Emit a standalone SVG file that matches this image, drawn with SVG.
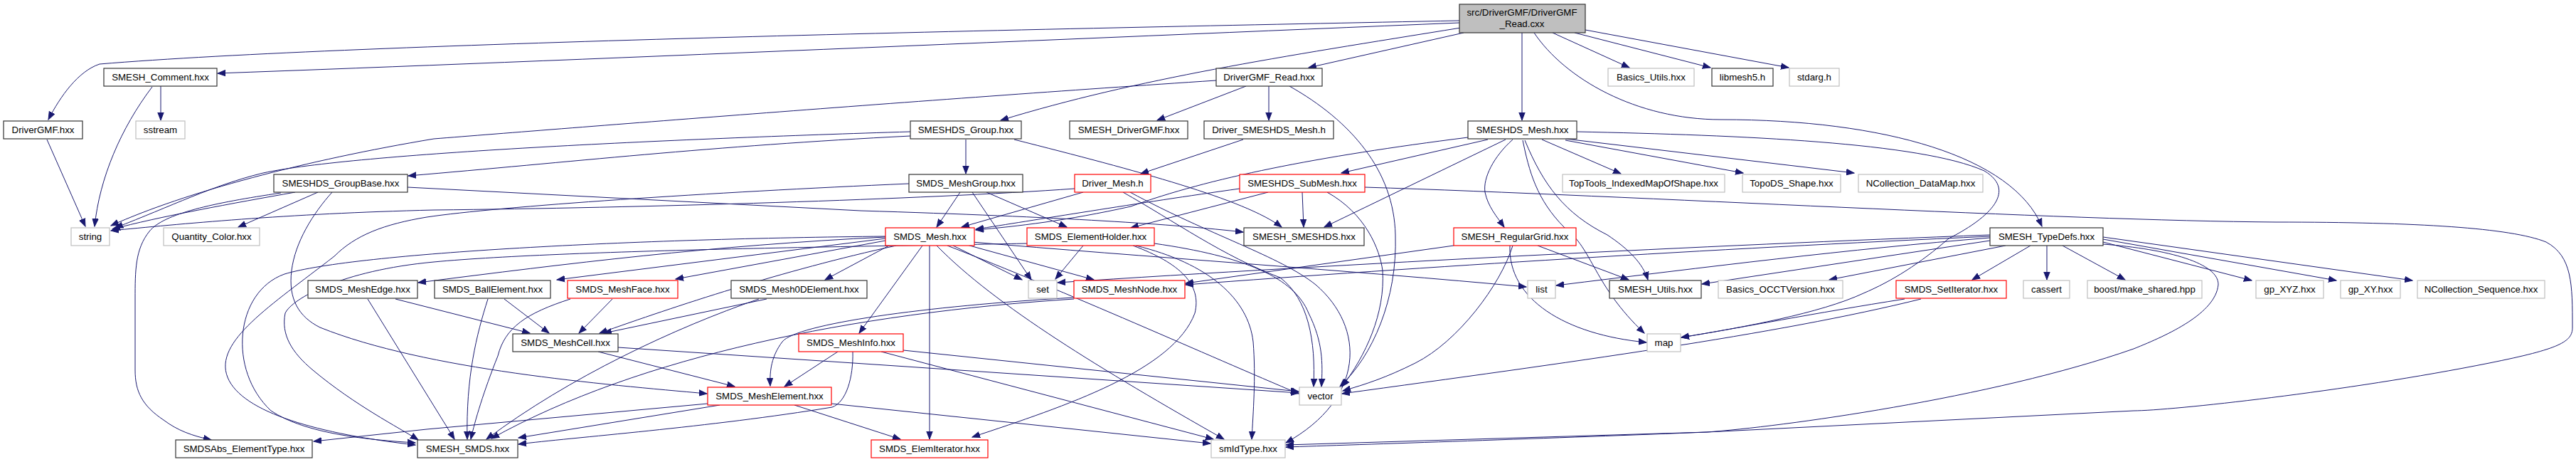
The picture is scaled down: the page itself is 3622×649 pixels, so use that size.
<svg xmlns="http://www.w3.org/2000/svg" width="3622" height="649" viewBox="0 0 3622 649">
<defs>
<style>
.b{fill:#fff;stroke-width:1.2}
.k{stroke:#333333}
.g{stroke:#bfbfbf}
.r{stroke:#ff0000}
text{font-family:"Liberation Sans",Arial,sans-serif;font-size:13.3px;fill:#000;text-anchor:middle}
.e path{fill:none;stroke:#191970;stroke-width:1;marker-end:url(#a)}
</style>
<marker id="a" markerWidth="12" markerHeight="10" refX="11" refY="5" orient="auto" markerUnits="userSpaceOnUse"><path d="M0,0.8 L11,5 L0,9.2 z" fill="#191970" stroke="#191970"/></marker>
</defs>
<rect width="3622" height="649" fill="#fff"/>
<g class="e" id="edges">
<path d="M2052,29 C1500,40 500,60 140,90 C110,100 85,135 68,168"/>
<path d="M2052,32 C1500,55 800,85 306,103"/>
<path d="M2054,39 C1800,80 1600,110 1407,169"/>
<path d="M2058,46 L1840,95"/>
<path d="M2140,46 L2140,169"/>
<path d="M2183,46 L2291,95"/>
<path d="M2214,46 L2405,95"/>
<path d="M2229,42 L2515,95"/>
<path d="M2157,46 C2200,110 2300,168 2420,168 C2650,168 2830,220 2871,318"/>
<path d="M1710,113 C1300,140 800,180 610,195 C430,225 260,270 156,317"/>
<path d="M1752,121 L1627,169"/>
<path d="M1784,121 L1784,169"/>
<path d="M1813,121 C1900,170 1960,240 1962,330 C1965,420 1930,500 1884,543"/>
<path d="M226,121 L226,169"/>
<path d="M214,122 C170,180 140,250 133,318"/>
<path d="M66,196 L120,318"/>
<path d="M1280,185 C950,195 500,215 370,243 C300,260 240,290 162,320"/>
<path d="M1280,191 C1000,205 800,228 574,247"/>
<path d="M1358,196 L1358,244"/>
<path d="M1426,196 C1600,240 1750,280 1802,319"/>
<path d="M1748,196 L1604,244"/>
<path d="M2064,193 C1850,220 1700,250 1590,290 C1500,310 1430,318 1372,323"/>
<path d="M2092,196 L1886,243"/>
<path d="M2117,196 L1862,319"/>
<path d="M2127,196 C2100,220 2085,250 2088,270 C2092,290 2105,305 2115,319"/>
<path d="M2141,197 C2150,240 2160,280 2200,320 C2240,350 2240,400 2312,468"/>
<path d="M2144,197 C2170,260 2200,300 2260,330 C2290,350 2310,370 2317,393"/>
<path d="M2168,196 L2279,244"/>
<path d="M2201,197 L2451,243"/>
<path d="M2201,195 L2607,243"/>
<path d="M2217,185 C2450,190 2700,200 2790,240 C2840,270 2790,310 2740,335 C2700,370 2660,395 2620,412 C2560,440 2450,460 2364,474"/>
<path d="M415,270 C330,285 220,305 158,322"/>
<path d="M395,271 C300,285 230,300 210,325 C190,350 190,380 190,420 L190,520 C190,550 200,570 230,590 C250,605 270,612 297,618"/>
<path d="M447,270 L335,319"/>
<path d="M467,270 C440,300 415,340 410,380 C405,420 420,445 450,460 C600,520 850,540 994,553"/>
<path d="M573,263 L1210,296 C1500,305 1650,315 1748,326"/>
<path d="M1511,265 C1300,280 900,292 610,295 C400,300 250,315 156,324"/>
<path d="M1523,270 L1352,319"/>
<path d="M1579,270 C1650,310 1720,360 1800,390 C1840,420 1850,480 1847,543"/>
<path d="M1589,270 C1700,330 1800,360 1850,400 C1920,460 1920,560 1808,622"/>
<path d="M1350,270 L1317,319"/>
<path d="M1367,270 L1450,393"/>
<path d="M1387,270 L1500,319"/>
<path d="M1278,258 C1000,270 700,290 600,305 C540,315 500,330 470,360 C380,430 300,480 320,530 C340,580 450,610 584,625"/>
<path d="M1831,270 L1833,319"/>
<path d="M1866,270 C1920,300 1940,350 1944,380 C1948,440 1920,500 1887,543"/>
<path d="M1743,265 C1600,285 1450,310 1372,322"/>
<path d="M1783,270 L1590,320"/>
<path d="M1919,263 C2300,275 2900,310 3200,312 C3400,312 3530,320 3580,340 C3617,360 3617,400 3617,460 C3617,480 3600,490 3500,510 C3300,550 3050,577 3000,577 L2400,607 C2200,615 1900,625 1808,628"/>
<path d="M1297,345 L1208,468"/>
<path d="M1307,345 L1307,617"/>
<path d="M1317,345 C1400,430 1550,520 1721,617"/>
<path d="M1332,345 C1500,410 1700,500 1826,553"/>
<path d="M1340,345 L1437,393"/>
<path d="M1356,343 L1538,393"/>
<path d="M1367,340 C1600,360 1900,380 2146,403"/>
<path d="M1245,333 C1000,345 800,370 588,397"/>
<path d="M1245,335 L783,393"/>
<path d="M1245,338 L950,392"/>
<path d="M1250,345 L1160,393"/>
<path d="M1260,345 C1100,380 950,430 843,468"/>
<path d="M1245,332 C900,335 500,355 400,385 C330,410 320,520 381,577 C430,610 520,618 584,622"/>
<path d="M1444,342 C1300,345 800,350 610,368 C480,380 410,420 401,440 C395,470 410,495 440,520 C500,570 560,600 588,618"/>
<path d="M517,420 L639,617"/>
<path d="M556,420 L745,468"/>
<path d="M686,420 C670,470 655,530 657,617"/>
<path d="M709,420 L772,468"/>
<path d="M802,420 C740,440 710,460 700,500 C680,550 668,590 662,617"/>
<path d="M861,420 L814,468"/>
<path d="M1078,420 L849,468"/>
<path d="M1067,420 C950,460 800,530 684,617"/>
<path d="M841,494 L1033,543"/>
<path d="M869,488 L1200,510 L1826,552"/>
<path d="M1178,494 L1103,543"/>
<path d="M1199,494 C1200,530 1190,565 1170,572 C1000,600 800,615 729,624"/>
<path d="M1270,492 L1826,550"/>
<path d="M1239,494 L1706,617"/>
<path d="M995,567 L600,603 L441,620"/>
<path d="M1012,569 L729,615"/>
<path d="M1169,567 L1702,623"/>
<path d="M1117,569 L1266,617"/>
<path d="M1510,418 C1300,430 1120,455 1100,480 C1085,500 1082,520 1083,542"/>
<path d="M1510,420 C1200,440 900,500 691,616"/>
<path d="M1523,345 L1484,392"/>
<path d="M1593,345 C1660,370 1690,400 1680,440 C1650,520 1500,570 1367,614"/>
<path d="M1597,345 C1700,370 1755,420 1762,480 C1766,530 1762,580 1760,617"/>
<path d="M1623,342 C1750,360 1820,390 1840,440 C1860,480 1860,510 1858,543"/>
<path d="M2044,345 L1667,398"/>
<path d="M2162,345 L2290,393"/>
<path d="M2127,345 C2110,400 2050,480 1990,510 C1950,530 1920,540 1888,549"/>
<path d="M2123,345 C2120,420 2200,470 2315,481"/>
<path d="M2798,338 L2393,399"/>
<path d="M2798,334 C2600,350 2400,375 2188,401"/>
<path d="M2798,330 C2400,345 1900,370 1487,397"/>
<path d="M2798,332 C2400,350 2000,375 1667,400"/>
<path d="M2820,345 L2572,393"/>
<path d="M2855,345 L2773,393"/>
<path d="M2878,345 L2878,393"/>
<path d="M2900,345 L2988,393"/>
<path d="M2957,340 L3166,394"/>
<path d="M2957,336 L3285,394"/>
<path d="M2957,333 L3392,394"/>
<path d="M2957,343 C3050,350 3120,370 3119,400 C3115,440 3050,470 3000,490 C2800,560 2500,600 2400,607 L1808,625"/>
<path d="M2678,420 C2550,440 2450,460 2364,474"/>
<path d="M2701,420 C2500,470 2200,510 1887,553"/>
</g>
<g id="n_root"><rect class="b k" x="2052" y="6" width="177" height="40" style="fill:#bfbfbf"/><text x="2140" y="22">src/DriverGMF/DriverGMF</text><text x="2140" y="38">_Read.cxx</text></g>
<g id="n_DriverGMF_Read_hxx"><rect class="b k" x="1710" y="96" width="149" height="25"/><text x="1784.5" y="113">DriverGMF_Read.hxx</text></g>
<g id="n_SMESH_Comment"><rect class="b k" x="146" y="96" width="159" height="25"/><text x="225.5" y="113">SMESH_Comment.hxx</text></g>
<g id="n_Basics_Utils"><rect class="b g" x="2261" y="96" width="121" height="25"/><text x="2321.5" y="113">Basics_Utils.hxx</text></g>
<g id="n_libmesh5"><rect class="b k" x="2407" y="96" width="86" height="25"/><text x="2450" y="113">libmesh5.h</text></g>
<g id="n_stdarg"><rect class="b g" x="2516" y="96" width="70" height="25"/><text x="2551" y="113">stdarg.h</text></g>
<g id="n_DriverGMF_hxx"><rect class="b k" x="5" y="170" width="111" height="25"/><text x="60.5" y="187">DriverGMF.hxx</text></g>
<g id="n_sstream"><rect class="b g" x="191" y="170" width="69" height="25"/><text x="225.5" y="187">sstream</text></g>
<g id="n_SMESHDS_Group"><rect class="b k" x="1280" y="170" width="156" height="25"/><text x="1358" y="187">SMESHDS_Group.hxx</text></g>
<g id="n_SMESH_DriverGMF"><rect class="b k" x="1504" y="170" width="166" height="25"/><text x="1587" y="187">SMESH_DriverGMF.hxx</text></g>
<g id="n_Driver_SMESHDS_Mesh"><rect class="b k" x="1693" y="170" width="182" height="25"/><text x="1784" y="187">Driver_SMESHDS_Mesh.h</text></g>
<g id="n_SMESHDS_Mesh"><rect class="b k" x="2064" y="170" width="153" height="25"/><text x="2140.5" y="187">SMESHDS_Mesh.hxx</text></g>
<g id="n_SMESHDS_GroupBase"><rect class="b k" x="385" y="245" width="188" height="25"/><text x="479" y="262">SMESHDS_GroupBase.hxx</text></g>
<g id="n_SMDS_MeshGroup"><rect class="b k" x="1278" y="245" width="160" height="25"/><text x="1358" y="262">SMDS_MeshGroup.hxx</text></g>
<g id="n_Driver_Mesh"><rect class="b r" x="1511" y="245" width="107" height="25"/><text x="1564.5" y="262">Driver_Mesh.h</text></g>
<g id="n_SMESHDS_SubMesh"><rect class="b r" x="1743" y="245" width="176" height="25"/><text x="1831" y="262">SMESHDS_SubMesh.hxx</text></g>
<g id="n_TopTools"><rect class="b g" x="2197" y="245" width="228" height="25"/><text x="2311" y="262">TopTools_IndexedMapOfShape.hxx</text></g>
<g id="n_TopoDS"><rect class="b g" x="2450" y="245" width="138" height="25"/><text x="2519" y="262">TopoDS_Shape.hxx</text></g>
<g id="n_NCollection_DataMap"><rect class="b g" x="2613" y="245" width="175" height="25"/><text x="2700.5" y="262">NCollection_DataMap.hxx</text></g>
<g id="n_string"><rect class="b g" x="100" y="320" width="54" height="25"/><text x="127" y="337">string</text></g>
<g id="n_Quantity_Color"><rect class="b g" x="230" y="320" width="135" height="25"/><text x="297.5" y="337">Quantity_Color.hxx</text></g>
<g id="n_SMDS_Mesh"><rect class="b r" x="1245" y="320" width="125" height="25"/><text x="1307.5" y="337">SMDS_Mesh.hxx</text></g>
<g id="n_SMDS_ElementHolder"><rect class="b r" x="1444" y="320" width="179" height="25"/><text x="1533.5" y="337">SMDS_ElementHolder.hxx</text></g>
<g id="n_SMESH_SMESHDS"><rect class="b k" x="1749" y="320" width="169" height="25"/><text x="1833.5" y="337">SMESH_SMESHDS.hxx</text></g>
<g id="n_SMESH_RegularGrid"><rect class="b r" x="2044" y="320" width="172" height="25"/><text x="2130" y="337">SMESH_RegularGrid.hxx</text></g>
<g id="n_SMESH_TypeDefs"><rect class="b k" x="2798" y="320" width="159" height="25"/><text x="2877.5" y="337">SMESH_TypeDefs.hxx</text></g>
<g id="n_SMDS_MeshEdge"><rect class="b k" x="433" y="394" width="154" height="25"/><text x="510" y="411">SMDS_MeshEdge.hxx</text></g>
<g id="n_SMDS_BallElement"><rect class="b k" x="611" y="394" width="163" height="25"/><text x="692.5" y="411">SMDS_BallElement.hxx</text></g>
<g id="n_SMDS_MeshFace"><rect class="b r" x="798" y="394" width="155" height="25"/><text x="875.5" y="411">SMDS_MeshFace.hxx</text></g>
<g id="n_SMDS_Mesh0DElement"><rect class="b k" x="1028" y="394" width="191" height="25"/><text x="1123.5" y="411">SMDS_Mesh0DElement.hxx</text></g>
<g id="n_set"><rect class="b g" x="1446" y="394" width="40" height="25"/><text x="1466" y="411">set</text></g>
<g id="n_SMDS_MeshNode"><rect class="b r" x="1510" y="394" width="156" height="25"/><text x="1588" y="411">SMDS_MeshNode.hxx</text></g>
<g id="n_list"><rect class="b g" x="2148" y="394" width="39" height="25"/><text x="2167.5" y="411">list</text></g>
<g id="n_SMESH_Utils"><rect class="b k" x="2263" y="394" width="129" height="25"/><text x="2327.5" y="411">SMESH_Utils.hxx</text></g>
<g id="n_Basics_OCCTVersion"><rect class="b g" x="2416" y="394" width="175" height="25"/><text x="2503.5" y="411">Basics_OCCTVersion.hxx</text></g>
<g id="n_SMDS_SetIterator"><rect class="b r" x="2666" y="394" width="155" height="25"/><text x="2743.5" y="411">SMDS_SetIterator.hxx</text></g>
<g id="n_cassert"><rect class="b g" x="2845" y="394" width="65" height="25"/><text x="2877.5" y="411">cassert</text></g>
<g id="n_boost"><rect class="b g" x="2935" y="394" width="161" height="25"/><text x="3015.5" y="411">boost/make_shared.hpp</text></g>
<g id="n_gp_XYZ"><rect class="b g" x="3172" y="394" width="95" height="25"/><text x="3219.5" y="411">gp_XYZ.hxx</text></g>
<g id="n_gp_XY"><rect class="b g" x="3291" y="394" width="84" height="25"/><text x="3333" y="411">gp_XY.hxx</text></g>
<g id="n_NCollection_Sequence"><rect class="b g" x="3399" y="394" width="179" height="25"/><text x="3488.5" y="411">NCollection_Sequence.hxx</text></g>
<g id="n_SMDS_MeshCell"><rect class="b k" x="721" y="469" width="148" height="25"/><text x="795" y="486">SMDS_MeshCell.hxx</text></g>
<g id="n_SMDS_MeshInfo"><rect class="b r" x="1123" y="469" width="147" height="25"/><text x="1196.5" y="486">SMDS_MeshInfo.hxx</text></g>
<g id="n_map"><rect class="b g" x="2316" y="469" width="47" height="25"/><text x="2339.5" y="486">map</text></g>
<g id="n_SMDS_MeshElement"><rect class="b r" x="995" y="544" width="174" height="25"/><text x="1082" y="561">SMDS_MeshElement.hxx</text></g>
<g id="n_vector"><rect class="b g" x="1827" y="544" width="59" height="25"/><text x="1856.5" y="561">vector</text></g>
<g id="n_SMDSAbs_ElementType"><rect class="b k" x="247" y="618" width="192" height="25"/><text x="343" y="635">SMDSAbs_ElementType.hxx</text></g>
<g id="n_SMESH_SMDS"><rect class="b k" x="587" y="618" width="141" height="25"/><text x="657.5" y="635">SMESH_SMDS.hxx</text></g>
<g id="n_SMDS_ElemIterator"><rect class="b r" x="1225" y="618" width="164" height="25"/><text x="1307" y="635">SMDS_ElemIterator.hxx</text></g>
<g id="n_smIdType"><rect class="b g" x="1703" y="618" width="104" height="25"/><text x="1755" y="635">smIdType.hxx</text></g>
</svg>
